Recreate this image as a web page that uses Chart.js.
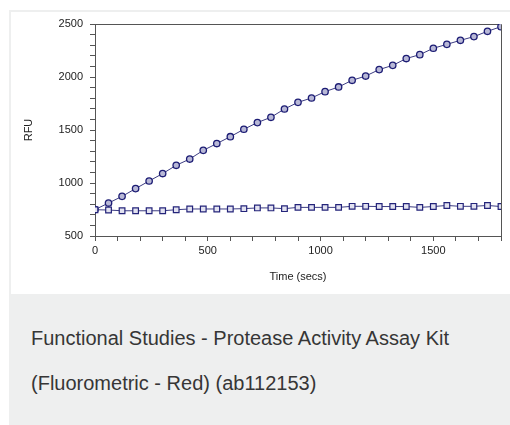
<!DOCTYPE html>
<html>
<head>
<meta charset="utf-8">
<script src="https://cdn.jsdelivr.net/npm/chart.js@4.4.1/dist/chart.umd.min.js"></script>
<style>
  html, body { margin: 0; padding: 0; background: #fff; width: 510px; height: 425px; overflow: hidden;
    font-family: "Liberation Sans", Arial, sans-serif; }
  #card { position: absolute; left: 9px; top: 10px; width: 520px; height: 430px; background: #eeefef; }
  #pic { position: absolute; left: 11px; top: 12px; width: 520px; height: 282px; background: #fff; }
  #wrap { position: absolute; left: 0; top: 0; width: 510px; height: 295px; }
  .cap { position: absolute; left: 31px; font-size: 20px; line-height: 23px; color: #363636; white-space: nowrap; }
</style>
</head>
<body>
<div id="card"></div>
<div id="pic"></div>
<div id="wrap"><canvas id="chart" width="510" height="295"></canvas></div>
<div class="cap" style="top:327px">Functional Studies - Protease Activity Assay Kit</div>
<div class="cap" style="top:372px">(Fluorometric - Red) (ab112153)</div>

<script>
// temps de lecture (s)
const times = [0, 60, 120, 180, 240, 300, 360, 420, 480, 540, 600, 660, 720, 780, 840, 900,
  960, 1020, 1080, 1140, 1200, 1260, 1320, 1380, 1440, 1500, 1560, 1620, 1680, 1740, 1800];

// échantillon avec protéase (cercles)
const sampleRFU = [749, 811, 874, 947, 1019, 1089, 1167, 1226, 1308, 1372, 1437, 1507, 1570, 1620,
  1698, 1761, 1802, 1862, 1906, 1969, 2009, 2070, 2110, 2174, 2211, 2271, 2308, 2346, 2381, 2431, 2475];

// contrôle sans enzyme (carrés)
const blankRFU = [748, 745, 738, 738, 738, 738, 748, 755, 755, 755, 755, 758, 765, 765, 758, 770,
  770, 770, 770, 780, 780, 778, 778, 778, 770, 778, 788, 780, 780, 788, 778];

const xLabels = [0, 500, 1000, 1500];
const yLabels = [500, 1000, 1500, 2000, 2500];

function pairs(vals) {
  return times.map((t, i) => ({ x: t, y: vals[i] }));
}

// cadre haut + droite du graphe
const framePlugin = {
  id: 'frame',
  beforeDatasetsDraw(chart) {
    const { ctx, chartArea: a } = chart;
    ctx.save();
    ctx.strokeStyle = '#555';
    ctx.lineWidth = 1;
    ctx.beginPath();
    ctx.moveTo(a.left, Math.round(a.top) + 0.5);
    ctx.lineTo(Math.round(a.right) + 0.5, Math.round(a.top) + 0.5);
    ctx.lineTo(Math.round(a.right) + 0.5, a.bottom);
    ctx.stroke();
    ctx.restore();
  }
};

const tickFont = { family: '"Liberation Sans", Arial, sans-serif', size: 11 };

new Chart(document.getElementById('chart').getContext('2d'), {
  type: 'scatter',
  data: {
    datasets: [
      {
        label: 'Blank',
        data: pairs(blankRFU),
        showLine: true,
        borderColor: '#3c3c82',
        borderWidth: 1,
        pointStyle: 'rect',
        pointRadius: 4,
        pointBackgroundColor: '#e2e2f0',
        pointBorderColor: '#24247a',
        pointBorderWidth: 1.2
      },
      {
        label: 'Protease',
        data: pairs(sampleRFU),
        showLine: true,
        borderColor: '#3c3c82',
        borderWidth: 1,
        pointStyle: 'circle',
        pointRadius: 3.2,
        pointBackgroundColor: '#b8b8d6',
        pointBorderColor: '#1c1c74',
        pointBorderWidth: 1.3
      }
    ]
  },
  options: {
    responsive: false,
    animation: false,
    layout: { padding: { left: 0, right: 9, top: 24, bottom: 0 } },
    plugins: { legend: { display: false }, tooltip: { enabled: false } },
    scales: {
      x: {
        type: 'linear',
        min: 0,
        max: 1800,
        afterFit: s => { s.height = 59; },
        ticks: {
          stepSize: 100,
          autoSkip: false,
          maxRotation: 0,
          padding: 3,
          color: '#222',
          font: tickFont,
          callback: v => xLabels.includes(v) ? String(v) : ''
        },
        grid: { drawOnChartArea: false, tickLength: 5, color: '#555' },
        border: { color: '#555' },
        title: { display: true, text: 'Time (secs)', color: '#222', font: tickFont, padding: { top: 0, bottom: 11 } }
      },
      y: {
        min: 500,
        max: 2500,
        afterFit: s => { s.width = 95; },
        ticks: {
          stepSize: 100,
          autoSkip: false,
          padding: 7,
          color: '#222',
          font: tickFont,
          callback: v => yLabels.includes(v) ? String(v) : ''
        },
        grid: { drawOnChartArea: false, tickLength: 5, color: '#555' },
        border: { color: '#555' },
        title: { display: true, text: 'RFU', color: '#222', font: tickFont, padding: { top: 22, bottom: 0 } }
      }
    }
  },
  plugins: [framePlugin]
});
</script>
</body>
</html>
